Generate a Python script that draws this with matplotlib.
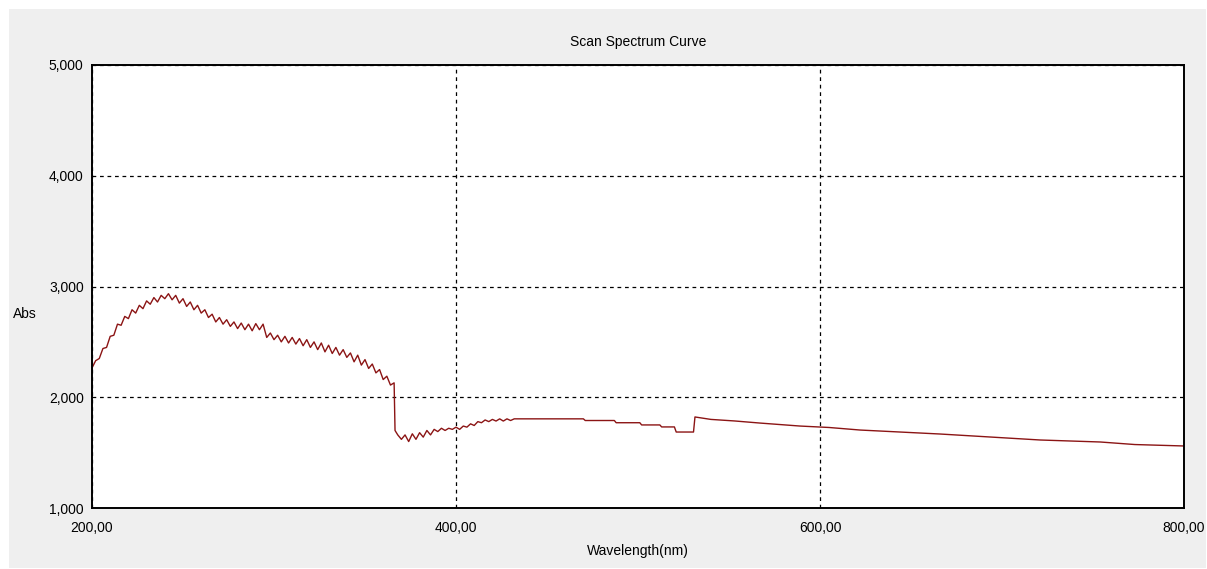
import matplotlib
matplotlib.use("Agg")
import matplotlib.pyplot as plt
from matplotlib.patches import Rectangle

plt.rcParams['font.family'] = ['Liberation Sans', 'DejaVu Sans']

# ====== DATA ================================
# noisy UV part, 2 nm steps
wl_uv = list(range(200, 368, 2))
abs_uv = [2264, 2330, 2350, 2440, 2450, 2550, 2560, 2660, 2650, 2730,
          2710, 2790, 2760, 2830, 2800, 2870, 2840, 2900, 2860, 2920,
          2890, 2935, 2880, 2920, 2850, 2890, 2820, 2860, 2790, 2830,
          2760, 2790, 2720, 2750, 2680, 2720, 2660, 2700, 2640, 2680,
          2620, 2670, 2610, 2660, 2600, 2665, 2610, 2660, 2540, 2580,
          2520, 2560, 2500, 2550, 2490, 2540, 2480, 2530, 2465, 2520,
          2450, 2500, 2430, 2490, 2410, 2470, 2395, 2450, 2380, 2430,
          2360, 2400, 2320, 2380, 2290, 2340, 2260, 2300, 2220, 2250,
          2160, 2190, 2110, 2130]

# after the lamp change drop
wl_mid = [366.5] + list(range(368, 436, 2))
abs_mid = [1700, 1660, 1620, 1660, 1600, 1670, 1620, 1680, 1640, 1700,
           1660, 1710, 1690, 1720, 1700, 1720, 1710, 1730, 1710, 1740,
           1730, 1760, 1745, 1780, 1770, 1795, 1780, 1800, 1785, 1805,
           1785, 1805, 1790, 1805, 1805]

# visible part, stepwise
wl_vis = [470, 471, 487, 488, 501, 502, 512, 513, 520, 521, 530.5,
          531.3, 540, 553, 567, 589, 605, 622, 644, 666, 693, 721, 754, 773, 800]
abs_vis = [1805, 1790, 1790, 1770, 1770, 1750, 1750, 1732, 1732, 1686, 1686,
           1822, 1800, 1786, 1767, 1740, 1727, 1704, 1686, 1668, 1641, 1614, 1596, 1573, 1560]

wavelength = wl_uv + wl_mid + wl_vis
absorbance = abs_uv + abs_mid + abs_vis

x_ticks = [200, 400, 600, 800]
x_labels = ["200,00", "400,00", "600,00", "800,00"]
y_ticks = [1000, 2000, 3000, 4000, 5000]
y_labels = ["1,000", "2,000", "3,000", "4,000", "5,000"]

# ====== PLOT =======
W, H = 1207, 569
fig = plt.figure(figsize=(W / 100, H / 100), dpi=100, facecolor="white")
bg = Rectangle((9 / W, 1 / H), 1 - 10 / W, 1 - 10 / H,
               transform=fig.transFigure, facecolor="#efefef",
               edgecolor="none", zorder=-10)
fig.patches.append(bg)

ax = fig.add_axes([92 / W, 1 - 508 / H, (1184 - 92) / W, (508 - 65) / H])
ax.set_zorder(1)
ax.set_facecolor("white")
ax.plot(wavelength, absorbance, color="#8b1414", linewidth=1.0)

ax.set_xlim(200, 800)
ax.set_ylim(1000, 5000)
ax.set_xticks(x_ticks)
ax.set_xticklabels(x_labels)
ax.set_yticks(y_ticks)
ax.set_yticklabels(y_labels)
ax.tick_params(length=0, labelsize=10, colors="black")
ax.tick_params(axis="x", pad=9)
ax.tick_params(axis="y", pad=6)

ax.grid(True, color="black", linestyle=(0, (3, 3)), linewidth=0.9)
for s in ax.spines.values():
    s.set_color("black")
    s.set_linewidth(1.4)

fig.text(638 / W, 1 - 42 / H, "Scan Spectrum Curve", ha="center", va="center", fontsize=10)
fig.text(25 / W, 1 - 314 / H, "Abs", ha="center", va="center", fontsize=10)
fig.text(638 / W, 1 - 551 / H, "Wavelength(nm)", ha="center", va="center", fontsize=10)

fig.savefig("out.png", dpi=100, facecolor="white")
